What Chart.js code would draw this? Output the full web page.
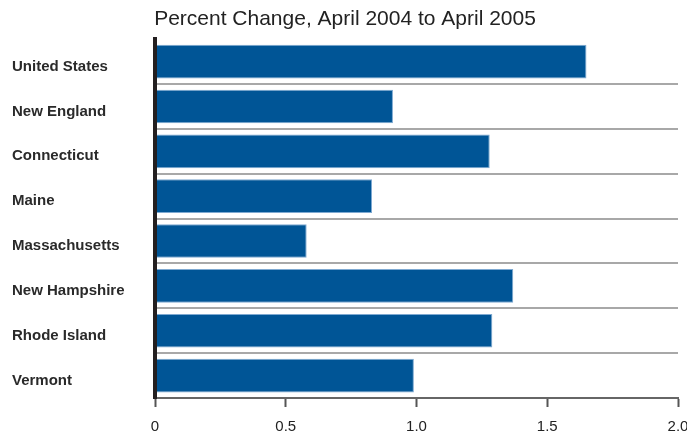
<!DOCTYPE html>
<html>
<head>
<meta charset="utf-8">
<script src="https://cdn.jsdelivr.net/npm/chart.js@4/dist/chart.umd.min.js"></script>
<style>
  html, body { margin: 0; padding: 0; background: #fff; }
  #wrap { width: 687px; height: 433px; }
</style>
</head>
<body>
<div id="wrap"><canvas id="chart"></canvas></div>
<script>
// 지역별 변화율 (April 2004 -> April 2005)
const regions = ['United States', 'New England', 'Connecticut', 'Maine',
  'Massachusetts', 'New Hampshire', 'Rhode Island', 'Vermont'];
const pctChange = [1.65, 0.91, 1.28, 0.83, 0.58, 1.37, 1.29, 0.99];
const xTicks = [0, 0.5, 1.0, 1.5, 2.0];

const titleText = 'Percent Change, April 2004 to April 2005';
const barColor = '#005596';

const nGrid = regions.length;

new Chart(document.getElementById('chart'), {
  type: 'bar',
  data: {
    labels: regions,
    datasets: [{
      data: pctChange,
      backgroundColor: barColor,
      borderColor: '#7ea9d1',
      borderWidth: 1,
      borderSkipped: 'left',
      barPercentage: 0.75,
      categoryPercentage: 1
    }]
  },
  options: {
    indexAxis: 'y',
    responsive: true,
    maintainAspectRatio: false,
    animation: false,
    layout: { padding: { left: 12, right: 9, top: 0, bottom: 0 } },
    plugins: {
      legend: { display: false },
      tooltip: { enabled: false },
      title: {
        display: true,
        text: titleText,
        color: '#222',
        font: { family: 'Liberation Sans, Arial, sans-serif', size: 21, weight: 'normal' },
        padding: { top: 7, bottom: 7 }
      }
    },
    scales: {
      x: {
        min: 0,
        max: 2,
        afterBuildTicks: (scale) => { scale.ticks = xTicks.map(v => ({ value: v })); },
        afterFit: (scale) => { scale.height = 35; scale.paddingLeft = 0; scale.paddingRight = 0; },
        ticks: {
          color: '#222',
          padding: 11,
          maxRotation: 0,
          font: { family: 'Liberation Sans, Arial, sans-serif', size: 15 },
          callback: (v) => (v === 0 ? '0' : Number(v).toFixed(1))
        },
        grid: {
          drawOnChartArea: false,
          drawTicks: true,
          tickLength: 9,
          tickColor: '#555',
          tickWidth: 2
        },
        border: { display: true, color: '#666', width: 2 }
      },
      y: {
        afterFit: (scale) => { scale.width = 143; },
        ticks: {
          crossAlign: 'far',
          labelOffset: 5,
          color: '#2a2a2a',
          font: { family: 'Liberation Sans, Arial, sans-serif', size: 15, weight: 'bold' }
        },
        grid: {
          drawTicks: false,
          lineWidth: 2,
          color: (ctx) => (ctx.index === 0 || ctx.index === nGrid ? 'rgba(0,0,0,0)' : '#a8a8a8')
        },
        border: { display: true, color: '#231f20', width: 4, z: 1 }
      }
    }
  }
});
</script>
</body>
</html>
